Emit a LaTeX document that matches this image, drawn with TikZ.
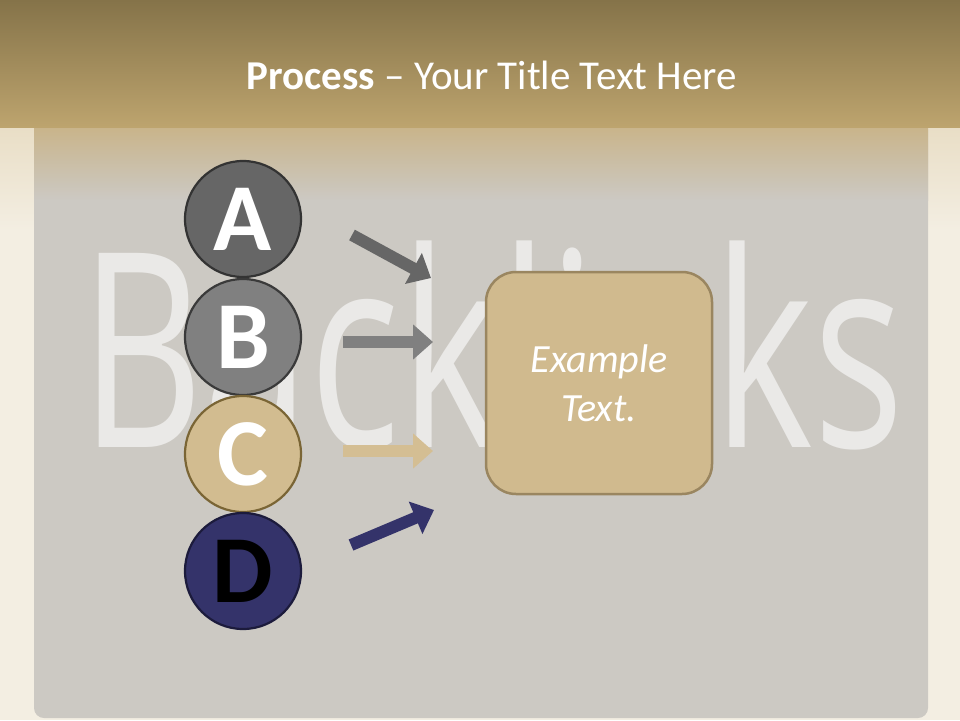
\documentclass[tikz,border=0pt]{standalone}
\usepackage{fontspec}
\setmainfont{Carlito}
\newfontfamily\wmfont[FakeStretch=0.70]{Open Sans}
\usetikzlibrary{arrows.meta}
\definecolor{paper}{HTML}{F3EEE2}
\definecolor{paperfade}{HTML}{E9DEC6}
\definecolor{hdrtop}{HTML}{857349}
\definecolor{hdrbot}{HTML}{BDA46E}
\definecolor{panelc}{HTML}{CCC9C3}
\definecolor{paneltop}{HTML}{C9B48A}
\definecolor{wmark}{HTML}{EAE9E7}
\definecolor{cA}{HTML}{666666}
\definecolor{cAb}{HTML}{333333}
\definecolor{cB}{HTML}{808080}
\definecolor{cBb}{HTML}{3A3A3A}
\definecolor{cC}{HTML}{D2BC90}
\definecolor{cCb}{HTML}{7A6535}
\definecolor{cD}{HTML}{34336A}
\definecolor{cDb}{HTML}{1C1B3C}
\definecolor{arrC}{HTML}{D4BE93}
\definecolor{boxc}{HTML}{D0BA8E}
\definecolor{boxb}{HTML}{9A8660}
\tikzset{
  letter/.style={circle, minimum size=116pt, inner sep=0pt, line width=2.2pt,
    font=\fontsize{96}{96}\selectfont\bfseries},
  blockarrow/.style={line width=12pt, -{Triangle[width=34pt,length=20pt]}},
}
\begin{document}
\begin{tikzpicture}[x=1pt,y=-1pt]
\useasboundingbox (0,0) rectangle (960,720);
% background paper
\fill[paper] (0,0) rectangle (960,720);
\fill[top color=paperfade, bottom color=paper] (0,127) rectangle (960,230);
% panel
\fill[panelc, rounded corners=10pt] (34,120) rectangle (928,718);
\fill[top color=paneltop, bottom color=panelc] (34,127) rectangle (928,200);
% header
\fill[top color=hdrtop, bottom color=hdrbot] (0,0) rectangle (960,127);
\node[text=white, font=\fontsize{41}{47}\selectfont] (title) at (492,75)
  {\textbf{Process} -- Your Title Text Here};
% watermark
\node[anchor=base west, inner sep=0pt, text=wmark,
  font=\wmfont\fontsize{272}{272}\selectfont] (wm) at (80,447) {Backlinks};
% circles
\node[letter, fill=cA, draw=cAb, text=white] (A) at (243,219) {A};
\node[letter, fill=cB, draw=cBb, text=white] (B) at (243,337) {B};
\node[letter, fill=cC, draw=cCb, text=white] (C) at (243,454) {C};
\node[letter, fill=cD, draw=cDb, text=black] (D) at (243,571) {D};
% arrows
\coordinate (a1) at (352,235); \coordinate (a2) at (431,278);
\coordinate (b1) at (343,342); \coordinate (b2) at (433,342);
\coordinate (c1) at (343,451); \coordinate (c2) at (433,451);
\coordinate (d1) at (351,545); \coordinate (d2) at (434,510);
\draw[blockarrow, cA] (a1) -- (a2);
\draw[blockarrow, cB] (b1) -- (b2);
\draw[blockarrow, arrC] (c1) -- (c2);
\draw[blockarrow, cD] (d1) -- (d2);
% box
\node[draw=boxb, fill=boxc, line width=2.5pt, rounded corners=30pt,
  minimum width=226pt, minimum height=222pt, align=center, text=white,
  font=\fontsize{40}{49}\selectfont\itshape] (box) at (599,383) {Example\\Text.};
\end{tikzpicture}
\end{document}
